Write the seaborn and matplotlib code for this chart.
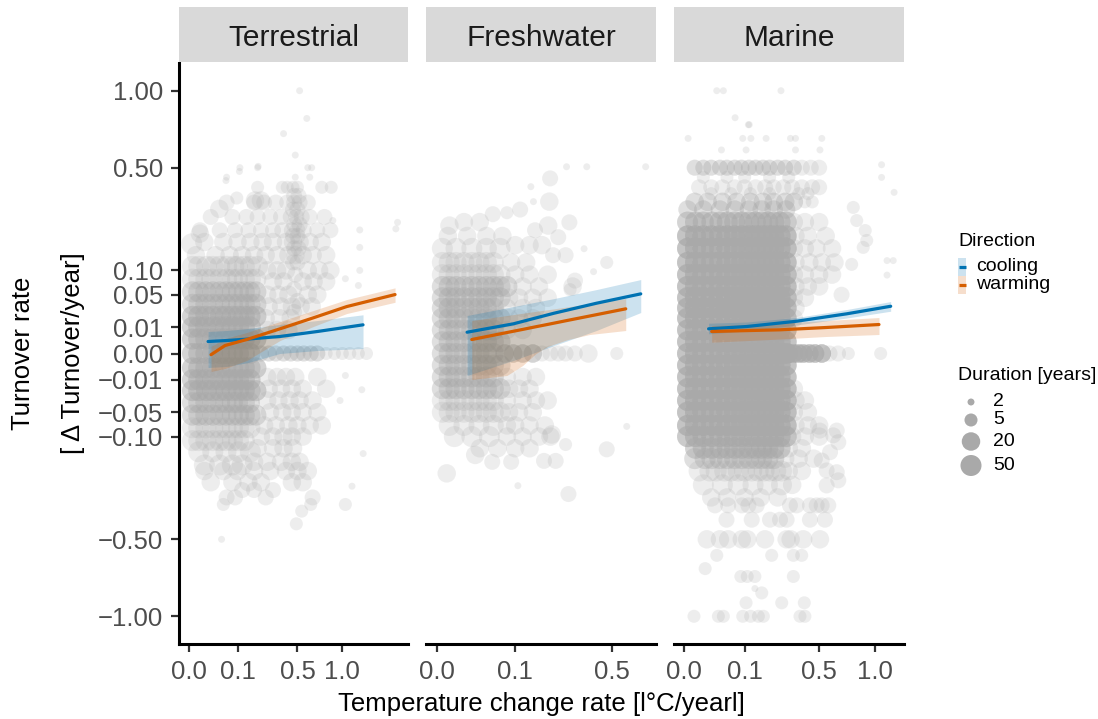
import numpy as np
import pandas as pd
import matplotlib
matplotlib.use("Agg")
import matplotlib.pyplot as plt
from matplotlib.patches import Rectangle
import seaborn as sns

W, H = 1098, 719

realms = ["Terrestrial", "Freshwater", "Marine"]
directions = ["cooling", "warming"]
direction_colors = {"cooling": "#0072B2", "warming": "#D55E00"}
point_color = "#A9A9A9"

duration_breaks = [2, 5, 20, 50]
# marker area (pt^2) for each study duration in years
duration_sizes = {2: 25, 5: 88, 10: 133, 20: 177, 50: 229}

y_ticks = [-1.0, -0.5, -0.1, -0.05, -0.01, 0.0, 0.01, 0.05, 0.1, 0.5, 1.0]
x_ticks = {
    "Terrestrial": [0.0, 0.1, 0.5, 1.0],
    "Freshwater": [0.0, 0.1, 0.5],
    "Marine": [0.0, 0.1, 0.5, 1.0],
}
x_limits = {
    "Terrestrial": (-0.0043, 2.04),
    "Freshwater": (-0.0019, 0.782),
    "Marine": (-0.0029, 1.327),
}
y_limits = (-1.222, 1.222)

# Observed time series: (turnover, duration in years, number of records, rates)
terrestrial_points = [
    (0.11, 50, 1, [0.0005, 0.004, 0.013, 0.024, 0.04, 0.06, 0.085, 0.1, 0.13, 0.16, 0.2]),
    (0.08, 50, 1, [0.0005, 0.004, 0.012, 0.022, 0.04, 0.06, 0.08, 0.1, 0.13, 0.16, 0.19]),
    (0.055, 50, 2, [0.0005, 0.004, 0.012, 0.024, 0.04, 0.058, 0.08, 0.104, 0.13, 0.158, 0.19]),
    (0.035, 50, 2, [0.0005, 0.004, 0.012, 0.024, 0.04, 0.058, 0.08, 0.104, 0.13, 0.158, 0.19]),
    (0.02, 50, 3, [0.0005, 0.004, 0.012, 0.024, 0.042, 0.058, 0.08, 0.104, 0.13, 0.158, 0.19]),
    (0.01, 50, 3, [0.0005, 0.004, 0.012, 0.025, 0.04, 0.058, 0.08, 0.104, 0.13, 0.16]),
    (0.003, 50, 3, [0.0005, 0.004, 0.012, 0.024, 0.04, 0.058, 0.078, 0.104, 0.13, 0.158, 0.19]),
    (0.0, 50, 3, [0.0005, 0.004, 0.012, 0.024, 0.04, 0.058, 0.08, 0.104, 0.13, 0.158]),
    (-0.003, 50, 3, [0.0005, 0.004, 0.012, 0.024, 0.04, 0.058, 0.08, 0.104, 0.13, 0.158, 0.19]),
    (-0.01, 50, 3, [0.0005, 0.004, 0.012, 0.024, 0.04, 0.06, 0.08, 0.104, 0.13, 0.158]),
    (-0.02, 50, 3, [0.0005, 0.004, 0.013, 0.024, 0.04, 0.058, 0.08, 0.104, 0.13, 0.158, 0.19]),
    (-0.035, 50, 2, [0.0005, 0.004, 0.012, 0.024, 0.04, 0.058, 0.08, 0.1, 0.13, 0.155]),
    (-0.055, 50, 2, [0.0005, 0.004, 0.012, 0.024, 0.04, 0.058, 0.08, 0.104, 0.13, 0.158, 0.19]),
    (-0.08, 50, 1, [0.0005, 0.004, 0.012, 0.024, 0.04, 0.058, 0.08, 0.104, 0.13, 0.158]),
    (-0.11, 50, 1, [0.0005, 0.004, 0.012, 0.024, 0.04, 0.058, 0.08, 0.104, 0.13]),
    (-0.14, 50, 1, [0.004, 0.024, 0.058, 0.104, 0.16]),
    (-0.18, 50, 1, [0.01, 0.04, 0.08, 0.12]),
    (0.14, 20, 1, [0.002, 0.03, 0.07, 0.12, 0.18, 0.25, 0.33, 0.42, 0.48, 0.55, 0.65, 0.8]),
    (0.18, 20, 1, [0.01, 0.05, 0.1, 0.16, 0.23, 0.3, 0.4, 0.46, 0.52, 0.62, 0.75]),
    (0.22, 10, 1, [0.005, 0.04, 0.09, 0.15, 0.22, 0.3, 0.37, 0.45, 0.5, 0.56, 0.7, 0.85]),
    (0.27, 10, 1, [0.02, 0.08, 0.14, 0.2, 0.28, 0.36, 0.44, 0.49, 0.54, 0.62, 0.78]),
    (0.33, 10, 1, [0.06, 0.18, 0.24, 0.32, 0.41, 0.47, 0.52, 0.6]),
    (0.4, 5, 1, [0.2, 0.37, 0.41, 0.46, 0.5, 0.75, 0.86]),
    (0.45, 2, 1, [0.06, 0.48, 0.62]),
    (0.5, 2, 1, [0.11, 0.2, 0.6, 0.64]),
    (0.57, 2, 1, [0.48]),
    (0.7, 2, 1, [0.38]),
    (0.8, 2, 1, [0.59]),
    (1.0, 2, 1, [0.52]),
    (0.36, 10, 1, [0.47, 0.51]),
    (0.3, 10, 1, [0.46, 0.5]),
    (0.24, 10, 1, [0.47, 0.52]),
    (0.2, 10, 1, [0.46, 0.5]),
    (0.16, 10, 1, [0.47, 0.51]),
    (0.12, 10, 1, [0.46, 0.5]),
    (0.09, 10, 1, [0.48]),
    (0.06, 10, 1, [0.47]),
    (0.04, 10, 1, [0.5]),
    (0.025, 10, 1, [0.47]),
    (0.1, 20, 1, [0.26, 0.33, 0.4, 0.6, 0.72, 0.85]),
    (0.075, 20, 1, [0.3, 0.38, 0.55, 0.66, 0.8]),
    (0.05, 20, 1, [0.26, 0.34, 0.42, 0.6, 0.7]),
    (0.032, 20, 1, [0.27, 0.36, 0.45, 0.53, 0.64]),
    (0.018, 20, 1, [0.25, 0.35, 0.44]),
    (0.008, 20, 1, [0.26, 0.33, 0.42]),
    (-0.008, 20, 1, [0.26, 0.33, 0.4, 0.48, 0.7]),
    (-0.018, 20, 1, [0.27, 0.36, 0.45, 0.55, 0.8]),
    (-0.032, 20, 1, [0.26, 0.34, 0.43, 0.52, 0.65]),
    (-0.05, 20, 1, [0.28, 0.37, 0.45, 0.55, 0.7]),
    (-0.075, 20, 1, [0.24, 0.32, 0.42, 0.5, 0.62, 0.75]),
    (-0.1, 20, 1, [0.22, 0.3, 0.38, 0.45, 0.55]),
    (-0.13, 20, 1, [0.2, 0.3, 0.38, 0.46]),
    (-0.17, 20, 1, [0.18, 0.26, 0.36, 0.45, 0.52]),
    (-0.2, 20, 1, [0.01, 0.05, 0.1, 0.18, 0.28, 0.4, 0.5, 0.6]),
    (-0.24, 20, 1, [0.02, 0.08, 0.15, 0.22, 0.45, 0.55]),
    (-0.27, 10, 1, [0.12, 0.18, 0.3]),
    (-0.3, 10, 1, [0.06, 0.09, 0.25, 0.65]),
    (-0.33, 5, 1, [0.05, 0.63, 1.04]),
    (-0.36, 5, 1, [0.54]),
    (-0.42, 5, 1, [0.49]),
    (-0.5, 2, 1, [0.045]),
    (-0.255, 2, 1, [1.13]),
    (-0.145, 2, 1, [1.29]),
    (0.256, 2, 1, [0.88]),
    (0.221, 2, 1, [1.24]),
    (0.249, 2, 1, [1.85]),
    (0.225, 2, 1, [1.82]),
    (0.163, 2, 1, [1.24]),
    (0.1, 2, 1, [1.24]),
    (0.067, 2, 1, [1.22]),
    (0.081, 2, 1, [1.04]),
    (-0.032, 2, 1, [0.97]),
    (-0.019, 2, 1, [1.27]),
    (-0.007, 2, 1, [1.04]),
    (0.0, 10, 2, [0.22, 0.27, 0.32, 0.38, 0.44, 0.5, 0.56, 0.63, 0.7]),
    (0.0, 5, 1, [0.8, 0.9, 1.0, 1.1, 1.22, 1.34]),
    (0.174, 50, 1, [0.0003]),
    (0.208, 20, 1, [0.005]),
    (0.303, 20, 1, [0.039]),
    (0.35, 5, 1, [0.097]),
    (0.433, 2, 1, [0.058]),
    (0.48, 2, 1, [0.108]),
    (0.507, 2, 1, [0.203]),
    (0.339, 20, 1, [0.185, 0.22]),
]

freshwater_points = [
    (0.2, 20, 1, [0.002, 0.015, 0.04, 0.07]),
    (0.16, 50, 1, [0.0005, 0.006, 0.02, 0.04, 0.065]),
    (0.12, 50, 1, [0.0005, 0.0025, 0.006, 0.012, 0.02, 0.029, 0.04, 0.052]),
    (0.09, 50, 1, [0.0005, 0.0025, 0.006, 0.012, 0.02, 0.029, 0.04, 0.052, 0.065]),
    (0.065, 50, 2, [0.0005, 0.0025, 0.006, 0.012, 0.02, 0.029, 0.04, 0.052, 0.065, 0.08]),
    (0.045, 50, 2, [0.0005, 0.0025, 0.006, 0.012, 0.02, 0.029, 0.04, 0.052, 0.065]),
    (0.03, 50, 2, [0.0005, 0.0025, 0.006, 0.012, 0.02, 0.029, 0.04, 0.052]),
    (0.018, 50, 2, [0.0005, 0.0025, 0.006, 0.012, 0.02, 0.029, 0.04, 0.052, 0.065]),
    (0.008, 50, 2, [0.0005, 0.0025, 0.006, 0.012, 0.02, 0.029, 0.04, 0.052]),
    (0.002, 50, 2, [0.0005, 0.0025, 0.006, 0.012, 0.02, 0.029, 0.04, 0.052, 0.065]),
    (0.0, 50, 2, [0.0005, 0.0025, 0.006, 0.012, 0.02, 0.029, 0.04, 0.052]),
    (-0.002, 50, 2, [0.0005, 0.0025, 0.006, 0.012, 0.02, 0.029, 0.04, 0.052, 0.065]),
    (-0.008, 50, 2, [0.0005, 0.0025, 0.006, 0.012, 0.02, 0.029, 0.04, 0.052]),
    (-0.018, 50, 2, [0.0005, 0.0025, 0.006, 0.012, 0.02, 0.029, 0.04, 0.052, 0.065]),
    (-0.032, 50, 1, [0.0005, 0.0025, 0.006, 0.012, 0.02, 0.029, 0.04, 0.052]),
    (-0.05, 50, 1, [0.0005, 0.0025, 0.006, 0.012, 0.02, 0.029, 0.04, 0.052, 0.065]),
    (-0.075, 50, 1, [0.0025, 0.012, 0.029, 0.052]),
    (-0.1, 50, 1, [0.005, 0.02, 0.045]),
    (0.12, 20, 1, [0.09, 0.13]),
    (0.09, 20, 1, [0.1, 0.14, 0.2]),
    (0.065, 20, 1, [0.12, 0.17, 0.3]),
    (0.045, 20, 1, [0.085, 0.11, 0.15, 0.2]),
    (0.03, 20, 1, [0.08, 0.12, 0.16]),
    (0.018, 20, 1, [0.085, 0.11, 0.15]),
    (0.008, 20, 1, [0.08, 0.12]),
    (-0.008, 20, 1, [0.08, 0.12, 0.16]),
    (-0.018, 20, 1, [0.085, 0.11, 0.14]),
    (-0.032, 20, 1, [0.08, 0.12, 0.16, 0.2]),
    (-0.05, 20, 1, [0.085, 0.11, 0.15]),
    (-0.075, 20, 1, [0.08, 0.1, 0.14, 0.19]),
    (-0.1, 20, 1, [0.08, 0.12, 0.17, 0.21]),
    (0.0, 20, 3, [0.075, 0.095, 0.12, 0.15]),
    (0.0, 10, 1, [0.18, 0.21, 0.24, 0.27, 0.31]),
    (0.0, 20, 1, [0.374]),
    (0.0, 5, 1, [0.527]),
    (0.505, 2, 1, [0.274, 0.366, 0.71]),
    (0.444, 10, 1, [0.209]),
    (0.403, 2, 1, [0.144]),
    (0.334, 20, 1, [0.206]),
    (0.334, 2, 1, [0.152]),
    (0.281, 10, 1, [0.051]),
    (0.287, 5, 1, [0.08]),
    (0.30, 10, 1, [0.113]),
    (0.237, 20, 1, [0.0026, 0.202]),
    (0.22, 10, 1, [0.157]),
    (0.196, 10, 1, [0.24]),
    (0.249, 10, 1, [0.286]),
    (0.159, 2, 1, [0.353]),
    (0.097, 2, 1, [0.4]),
    (0.12, 5, 1, [0.47]),
    (0.077, 10, 1, [0.311]),
    (0.059, 5, 1, [0.289]),
    (0.25, 20, 1, [0.012, 0.03]),
    (0.17, 20, 1, [0.1, 0.14, 0.18]),
    (0.14, 10, 1, [0.22, 0.27]),
    (-0.208, 20, 1, [0.0016]),
    (-0.149, 20, 1, [0.024]),
    (-0.253, 2, 1, [0.107]),
    (-0.286, 10, 1, [0.282]),
    (-0.167, 10, 1, [0.187, 0.23]),
    (-0.095, 20, 1, [0.215]),
    (-0.077, 2, 1, [0.587]),
    (-0.133, 10, 1, [0.47]),
    (-0.13, 20, 1, [0.03, 0.06, 0.1, 0.14]),
    (-0.17, 10, 1, [0.05, 0.09]),
    (-0.12, 5, 1, [0.27]),
]

marine_points = [
    (0.25, 50, 3, [0.0003, 0.0035, 0.01, 0.021, 0.035, 0.051, 0.07, 0.091, 0.115, 0.139, 0.165, 0.192, 0.22, 0.252, 0.285]),
    (0.2, 50, 5, [0.0003, 0.0035, 0.01, 0.021, 0.035, 0.051, 0.07, 0.091, 0.115, 0.139, 0.165, 0.192, 0.22, 0.252, 0.285]),
    (0.16, 50, 5, [0.0003, 0.0035, 0.01, 0.021, 0.035, 0.051, 0.07, 0.091, 0.115, 0.139, 0.165, 0.192, 0.22, 0.252, 0.285]),
    (0.12, 50, 5, [0.0003, 0.0035, 0.01, 0.021, 0.035, 0.051, 0.07, 0.091, 0.115, 0.139, 0.165, 0.192, 0.22, 0.252, 0.285]),
    (0.09, 50, 5, [0.0003, 0.0035, 0.01, 0.021, 0.035, 0.051, 0.07, 0.091, 0.115, 0.139, 0.165, 0.192, 0.22, 0.252, 0.285]),
    (0.065, 50, 5, [0.0003, 0.0035, 0.01, 0.021, 0.035, 0.051, 0.07, 0.091, 0.115, 0.139, 0.165, 0.192, 0.22, 0.252, 0.285]),
    (0.045, 50, 5, [0.0003, 0.0035, 0.01, 0.021, 0.035, 0.051, 0.07, 0.091, 0.115, 0.139, 0.165, 0.192, 0.22, 0.252, 0.285]),
    (0.03, 50, 5, [0.0003, 0.0035, 0.01, 0.021, 0.035, 0.051, 0.07, 0.091, 0.115, 0.139, 0.165, 0.192, 0.22, 0.252, 0.285]),
    (0.018, 50, 5, [0.0003, 0.0035, 0.01, 0.021, 0.035, 0.051, 0.07, 0.091, 0.115, 0.139, 0.165, 0.192, 0.22, 0.252, 0.285]),
    (0.008, 50, 5, [0.0003, 0.0035, 0.01, 0.021, 0.035, 0.051, 0.07, 0.091, 0.115, 0.139, 0.165, 0.192, 0.22, 0.252, 0.285]),
    (0.002, 50, 5, [0.0003, 0.0035, 0.01, 0.021, 0.035, 0.051, 0.07, 0.091, 0.115, 0.139, 0.165, 0.192, 0.22, 0.252, 0.285]),
    (0.0, 50, 5, [0.0003, 0.0035, 0.01, 0.021, 0.035, 0.051, 0.07, 0.091, 0.115, 0.139, 0.165, 0.192, 0.22, 0.252, 0.285]),
    (-0.002, 50, 5, [0.0003, 0.0035, 0.01, 0.021, 0.035, 0.051, 0.07, 0.091, 0.115, 0.139, 0.165, 0.192, 0.22, 0.252, 0.285]),
    (-0.008, 50, 5, [0.0003, 0.0035, 0.01, 0.021, 0.035, 0.051, 0.07, 0.091, 0.115, 0.139, 0.165, 0.192, 0.22, 0.252, 0.285]),
    (-0.018, 50, 5, [0.0003, 0.0035, 0.01, 0.021, 0.035, 0.051, 0.07, 0.091, 0.115, 0.139, 0.165, 0.192, 0.22, 0.252, 0.285]),
    (-0.032, 50, 5, [0.0003, 0.0035, 0.01, 0.021, 0.035, 0.051, 0.07, 0.091, 0.115, 0.139, 0.165, 0.192, 0.22, 0.252, 0.285]),
    (-0.05, 50, 5, [0.0003, 0.0035, 0.01, 0.021, 0.035, 0.051, 0.07, 0.091, 0.115, 0.139, 0.165, 0.192, 0.22, 0.252, 0.285]),
    (-0.075, 50, 5, [0.0003, 0.0035, 0.01, 0.021, 0.035, 0.051, 0.07, 0.091, 0.115, 0.139, 0.165, 0.192, 0.22, 0.252, 0.285]),
    (-0.1, 50, 4, [0.0003, 0.0035, 0.01, 0.021, 0.035, 0.051, 0.07, 0.091, 0.115, 0.139, 0.165, 0.192, 0.22, 0.252, 0.285]),
    (-0.13, 50, 3, [0.0035, 0.01, 0.021, 0.035, 0.051, 0.07, 0.091, 0.115, 0.139, 0.165, 0.192, 0.22, 0.252]),
    (-0.16, 50, 2, [0.003, 0.012, 0.021, 0.035, 0.051, 0.07, 0.091, 0.115, 0.139, 0.165, 0.192, 0.22]),
    (-0.2, 50, 1, [0.006, 0.018, 0.028, 0.045, 0.06, 0.08, 0.1, 0.125, 0.15, 0.175, 0.2, 0.23, 0.26]),
    (-0.25, 50, 1, [0.01, 0.04, 0.08, 0.13, 0.19, 0.26]),
    (-0.3, 20, 1, [0.02, 0.05, 0.1, 0.16, 0.24]),
    (0.3, 20, 2, [0.0003, 0.01, 0.035, 0.07, 0.115, 0.165, 0.22, 0.285]),
    (0.333, 20, 2, [0.003, 0.015, 0.04, 0.075, 0.12, 0.17, 0.22, 0.28, 0.33]),
    (0.333, 5, 1, [0.4, 0.45]),
    (0.37, 5, 1, [0.02, 0.06, 0.12, 0.2, 0.36, 0.42]),
    (0.4, 10, 1, [0.006, 0.02, 0.04, 0.07, 0.1, 0.14, 0.18, 0.22, 0.27, 0.32, 0.38, 0.45, 0.5]),
    (0.45, 5, 1, [0.01, 0.05, 0.1, 0.2, 0.3]),
    (0.5, 10, 2, [0.003, 0.01, 0.02, 0.035, 0.05, 0.07, 0.09, 0.115, 0.14, 0.17, 0.2, 0.24, 0.28, 0.33]),
    (0.5, 10, 1, [0.38, 0.44, 0.5]),
    (1.0, 2, 1, [0.029, 0.042, 0.257]),
    (0.805, 2, 1, [0.071]),
    (0.758, 2, 1, [0.113, 0.116]),
    (0.67, 2, 1, [0.0004, 0.094, 0.122, 0.184, 0.31, 0.34, 0.52]),
    (0.6, 2, 1, [0.038, 0.105, 0.34, 0.506]),
    (0.516, 2, 1, [1.07]),
    (0.449, 2, 1, [1.07]),
    (0.376, 2, 1, [1.21]),
    (0.309, 5, 1, [0.785]),
    (0.256, 5, 1, [0.817]),
    (0.219, 5, 1, [0.9]),
    (0.185, 5, 1, [0.915]),
    (0.163, 5, 1, [0.88]),
    (0.125, 2, 1, [1.13, 1.2]),
    (0.115, 5, 1, [0.77]),
    (0.089, 2, 1, [1.13]),
    (0.05, 10, 1, [0.68]),
    (0.25, 20, 1, [0.33, 0.4, 0.5]),
    (0.2, 20, 1, [0.34, 0.42, 0.55]),
    (0.16, 20, 1, [0.33, 0.4, 0.48, 0.6]),
    (0.12, 20, 1, [0.34, 0.43, 0.52, 0.62]),
    (0.09, 20, 1, [0.33, 0.4, 0.5, 0.6]),
    (0.065, 20, 1, [0.34, 0.42, 0.5]),
    (0.045, 20, 1, [0.33, 0.4]),
    (0.03, 20, 1, [0.34]),
    (0.018, 20, 1, [0.33]),
    (-0.018, 20, 1, [0.33]),
    (-0.032, 20, 1, [0.34, 0.4]),
    (-0.05, 20, 1, [0.33, 0.42]),
    (-0.075, 20, 1, [0.34, 0.42, 0.5]),
    (-0.1, 20, 1, [0.32, 0.4, 0.5]),
    (-0.13, 20, 1, [0.3, 0.38]),
    (-0.16, 20, 1, [0.28, 0.36, 0.46]),
    (-0.2, 20, 1, [0.3, 0.38]),
    (-0.25, 20, 1, [0.32]),
    (-0.086, 10, 1, [0.505, 0.639]),
    (-0.097, 10, 1, [0.61]),
    (-0.114, 10, 1, [0.652]),
    (-0.141, 10, 1, [0.584]),
    (-0.166, 10, 1, [0.519]),
    (-0.198, 10, 1, [0.557]),
    (-0.204, 10, 1, [0.639]),
    (-0.233, 10, 1, [0.652]),
    (-0.252, 10, 1, [0.557]),
    (0.0, 20, 5, [0.3, 0.33, 0.36, 0.39, 0.43, 0.47, 0.52]),
    (0.0, 10, 1, [0.58, 0.65]),
    (0.0, 5, 1, [0.74, 1.06]),
    (-0.334, 10, 1, [0.026, 0.053, 0.091, 0.113, 0.144, 0.307, 0.347, 0.434, 0.482, 0.519, 0.57]),
    (-0.4, 10, 1, [0.049, 0.125, 0.202, 0.252, 0.288, 0.434, 0.544]),
    (-0.5, 20, 1, [0.014, 0.035, 0.053, 0.091, 0.109, 0.179, 0.288, 0.311, 0.389, 0.506]),
    (-0.59, 5, 1, [0.029, 0.21, 0.327, 0.379]),
    (-0.67, 5, 1, [0.012]),
    (-0.72, 5, 1, [0.088, 0.109, 0.137, 0.327]),
    (-0.8, 2, 1, [0.137]),
    (-0.83, 5, 1, [0.165]),
    (-0.9, 5, 1, [0.105, 0.261, 0.396]),
    (-1.0, 5, 1, [0.0026, 0.032, 0.042, 0.094, 0.121, 0.151, 0.172, 0.368, 0.40]),
]

# Model predictions with 95% intervals
terrestrial_cooling_rate = [0.0154, 0.06, 0.15, 0.35, 0.7, 1.288]
terrestrial_cooling_fit = [0.00208, 0.00244, 0.00304, 0.00418, 0.0070, 0.0119]
terrestrial_cooling_lower = [-0.00283, -0.00244, -0.00117, 0.0, 0.00013, 0.00036]
terrestrial_cooling_upper = [0.0070, 0.00766, 0.00904, 0.0122, 0.01575, 0.0217]

terrestrial_warming_rate = [0.0206, 0.0551, 0.1417, 0.352, 0.657, 1.058, 1.806]
terrestrial_warming_fit = [-0.00002, 0.000925, 0.00283, 0.00882, 0.01842, 0.0319, 0.0503]
terrestrial_warming_lower = [-0.00468, -0.00325, -0.00071, 0.00244, 0.01054, 0.02313, 0.0380]
terrestrial_warming_upper = [0.00071, 0.00325, 0.00637, 0.0148, 0.02673, 0.04216, 0.0624]

freshwater_cooling_rate = [0.01493, 0.0954, 0.2237, 0.415, 0.677]
freshwater_cooling_fit = [0.00656, 0.01275, 0.0235, 0.0366, 0.0515]
freshwater_cooling_lower = [-0.0070, -0.00071, 0.000925, 0.00766, 0.0243]
freshwater_cooling_upper = [0.0209, 0.0319, 0.0437, 0.0592, 0.0792]

freshwater_warming_rate = [0.0199, 0.08, 0.12, 0.16, 0.2, 0.28, 0.38, 0.581]
freshwater_warming_fit = [0.00283, 0.00637, 0.0084, 0.01038, 0.01224, 0.01594, 0.02033, 0.0289]
freshwater_warming_lower = [-0.00978, -0.0070, -0.00208, 0.0, 0.00071, 0.00283, 0.00522, 0.00765]
freshwater_warming_upper = [0.01575, 0.02088, 0.02348, 0.02575, 0.02773, 0.03153, 0.03585, 0.04373]

marine_cooling_rate = [0.01624, 0.107, 0.347, 0.725, 1.171]
marine_cooling_fit = [0.00882, 0.01054, 0.01508, 0.0228, 0.0323]
marine_cooling_lower = [0.00561, 0.00732, 0.01175, 0.01822, 0.02587]
marine_cooling_upper = [0.01327, 0.01435, 0.01874, 0.02799, 0.03909]

marine_warming_rate = [0.02065, 0.08, 0.252, 0.55, 1.042]
marine_warming_fit = [0.0070, 0.00745, 0.00812, 0.00977, 0.01216]
marine_warming_lower = [0.00185, 0.00226, 0.00304, 0.00418, 0.00522]
marine_warming_upper = [0.01134, 0.0119, 0.01345, 0.01575, 0.01874]


def point_records(realm, groups):
    recs = []
    for turnover, years, count, rates in groups:
        for rate in rates:
            recs.extend([(realm, rate, turnover, years)] * count)
    return recs


points = pd.DataFrame(
    point_records("Terrestrial", terrestrial_points)
    + point_records("Freshwater", freshwater_points)
    + point_records("Marine", marine_points),
    columns=["realm", "rate", "turnover", "years"],
)

fit_sources = {
    ("Terrestrial", "cooling"): (terrestrial_cooling_rate, terrestrial_cooling_fit,
                                 terrestrial_cooling_lower, terrestrial_cooling_upper),
    ("Terrestrial", "warming"): (terrestrial_warming_rate, terrestrial_warming_fit,
                                 terrestrial_warming_lower, terrestrial_warming_upper),
    ("Freshwater", "cooling"): (freshwater_cooling_rate, freshwater_cooling_fit,
                                freshwater_cooling_lower, freshwater_cooling_upper),
    ("Freshwater", "warming"): (freshwater_warming_rate, freshwater_warming_fit,
                                freshwater_warming_lower, freshwater_warming_upper),
    ("Marine", "cooling"): (marine_cooling_rate, marine_cooling_fit,
                            marine_cooling_lower, marine_cooling_upper),
    ("Marine", "warming"): (marine_warming_rate, marine_warming_fit,
                            marine_warming_lower, marine_warming_upper),
}
fits = pd.concat(
    [pd.DataFrame({"realm": r, "direction": d, "rate": v[0], "fit": v[1],
                   "lower": v[2], "upper": v[3]})
     for (r, d), v in fit_sources.items()],
    ignore_index=True,
)


def signed_sqrt(v):
    v = np.asarray(v, dtype=float)
    return np.sign(v) * np.sqrt(np.abs(v))


def signed_square(v):
    v = np.asarray(v, dtype=float)
    return np.sign(v) * np.square(v)


sns.set_theme(style="white")
plt.rcParams["font.family"] = ["Liberation Sans", "DejaVu Sans"]
plt.rcParams["axes.unicode_minus"] = True

fig = plt.figure(figsize=(W / 100, H / 100), dpi=100)
fig.patch.set_facecolor("white")

panel_px = {"Terrestrial": (179, 408), "Freshwater": (426, 656), "Marine": (674, 904)}
top_px, bottom_px = 63, 644
strip_top, strip_bottom = 7, 62

tick_color = "#333333"
label_color = "#4D4D4D"

for i, realm in enumerate(realms):
    x0, x1 = panel_px[realm]
    ax = fig.add_axes([x0 / W, 1 - bottom_px / H, (x1 - x0) / W, (bottom_px - top_px) / H])
    ax.set_facecolor("white")
    ax.set_xscale("function", functions=(signed_sqrt, signed_square))
    ax.set_yscale("function", functions=(signed_sqrt, signed_square))

    sns.scatterplot(
        data=points[points["realm"] == realm], x="rate", y="turnover",
        size="years", sizes=duration_sizes, color=point_color, alpha=0.2,
        legend=False, ax=ax, zorder=2,
    )
    # plain filled circles, no outline
    dots = ax.collections[-1]
    dots.set_linewidths(0)
    dots.set_edgecolor("none")

    sub = fits[fits["realm"] == realm]
    for d in directions:
        g = sub[sub["direction"] == d]
        ax.fill_between(g["rate"], g["lower"], g["upper"], color=direction_colors[d],
                        alpha=0.2, linewidth=0, zorder=3)
    sns.lineplot(
        data=sub, x="rate", y="fit", hue="direction", hue_order=directions,
        palette=direction_colors, estimator=None, linewidth=2.3, legend=False,
        ax=ax, zorder=4,
    )

    ax.set_xlim(*x_limits[realm])
    ax.set_ylim(*y_limits)
    ax.set_xticks(x_ticks[realm])
    ax.set_xticklabels([f"{t:.1f}" for t in x_ticks[realm]])
    ax.minorticks_off()
    ax.set_xlabel("")
    ax.set_ylabel("")
    ax.grid(False)

    for s in ["top", "right"]:
        ax.spines[s].set_visible(False)
    ax.spines["bottom"].set_linewidth(2.2)
    ax.spines["bottom"].set_color("black")
    ax.tick_params(axis="x", length=6, width=1.6, color=tick_color,
                   labelsize=18.5, labelcolor=label_color, pad=5.5, bottom=True)
    if i == 0:
        ax.spines["left"].set_linewidth(2.2)
        ax.spines["left"].set_color("black")
        ax.set_yticks(y_ticks)
        ax.set_yticklabels([("\u2212" if t < 0 else "") + f"{abs(t):.2f}" for t in y_ticks])
        ax.tick_params(axis="y", length=6, width=1.6, color=tick_color,
                       labelsize=18.5, labelcolor=label_color, pad=5.5, left=True)
    else:
        ax.spines["left"].set_visible(False)
        ax.set_yticks(y_ticks)
        ax.tick_params(axis="y", left=False, labelleft=False)

    # facet strip
    sax = fig.add_axes([x0 / W, 1 - strip_bottom / H, (x1 - x0) / W,
                        (strip_bottom - strip_top) / H])
    sax.set_facecolor("#D9D9D9")
    sax.set_xticks([])
    sax.set_yticks([])
    for s in sax.spines.values():
        s.set_visible(False)
    sax.text(0.5, (strip_bottom - 45.7) / (strip_bottom - strip_top), realm,
             ha="center", va="baseline", fontsize=21.5, color="#1A1A1A",
             transform=sax.transAxes)

# overlay in pixel coordinates for titles and legends
ov = fig.add_axes([0, 0, 1, 1], zorder=10)
ov.set_xlim(0, W)
ov.set_ylim(H, 0)
ov.axis("off")
ov.patch.set_visible(False)

ov.text(541.5, 711.5, "Temperature change rate [l\u00b0C/yearl]", ha="center",
        va="baseline", fontsize=18.5, color="black")
ov.text(22.6, 353.5, "Turnover rate", rotation=90, ha="center", va="center",
        fontsize=18.5, color="black")
ov.text(73, 353.5, "[ \u0394 Turnover/year]", rotation=90, ha="center", va="center",
        fontsize=18.5, color="black")

# Direction legend
ov.text(958, 245.5, "Direction", ha="left", va="baseline", fontsize=14, color="black")
key_rows = {"cooling": (257.5, 275.5), "warming": (275.5, 293.8)}
for d in directions:
    k0, k1 = key_rows[d]
    ov.add_patch(Rectangle((958, k0), 8, k1 - k0, facecolor=direction_colors[d],
                           alpha=0.2, linewidth=0))
    ym = (k0 + k1) / 2
    ov.plot([958.5, 965.5], [ym, ym], color=direction_colors[d], linewidth=2.3,
            solid_capstyle="butt")
    ov.text(976, ym, d, ha="left", va="center", fontsize=14, color="black")

# Duration legend
ov.text(958, 376, "Duration [years]", ha="left", va="center", fontsize=14, color="black")
legend_y = [402, 420, 441.5, 465.5]
ov.scatter([971] * len(duration_breaks), legend_y,
           s=[duration_sizes[b] for b in duration_breaks], color=point_color,
           linewidths=0, edgecolors="none")
for b, yy in zip(duration_breaks, legend_y):
    ov.text(993, yy, str(b), ha="left", va="center", fontsize=14, color="black")

fig.savefig("out.png", dpi=100, facecolor="white")
